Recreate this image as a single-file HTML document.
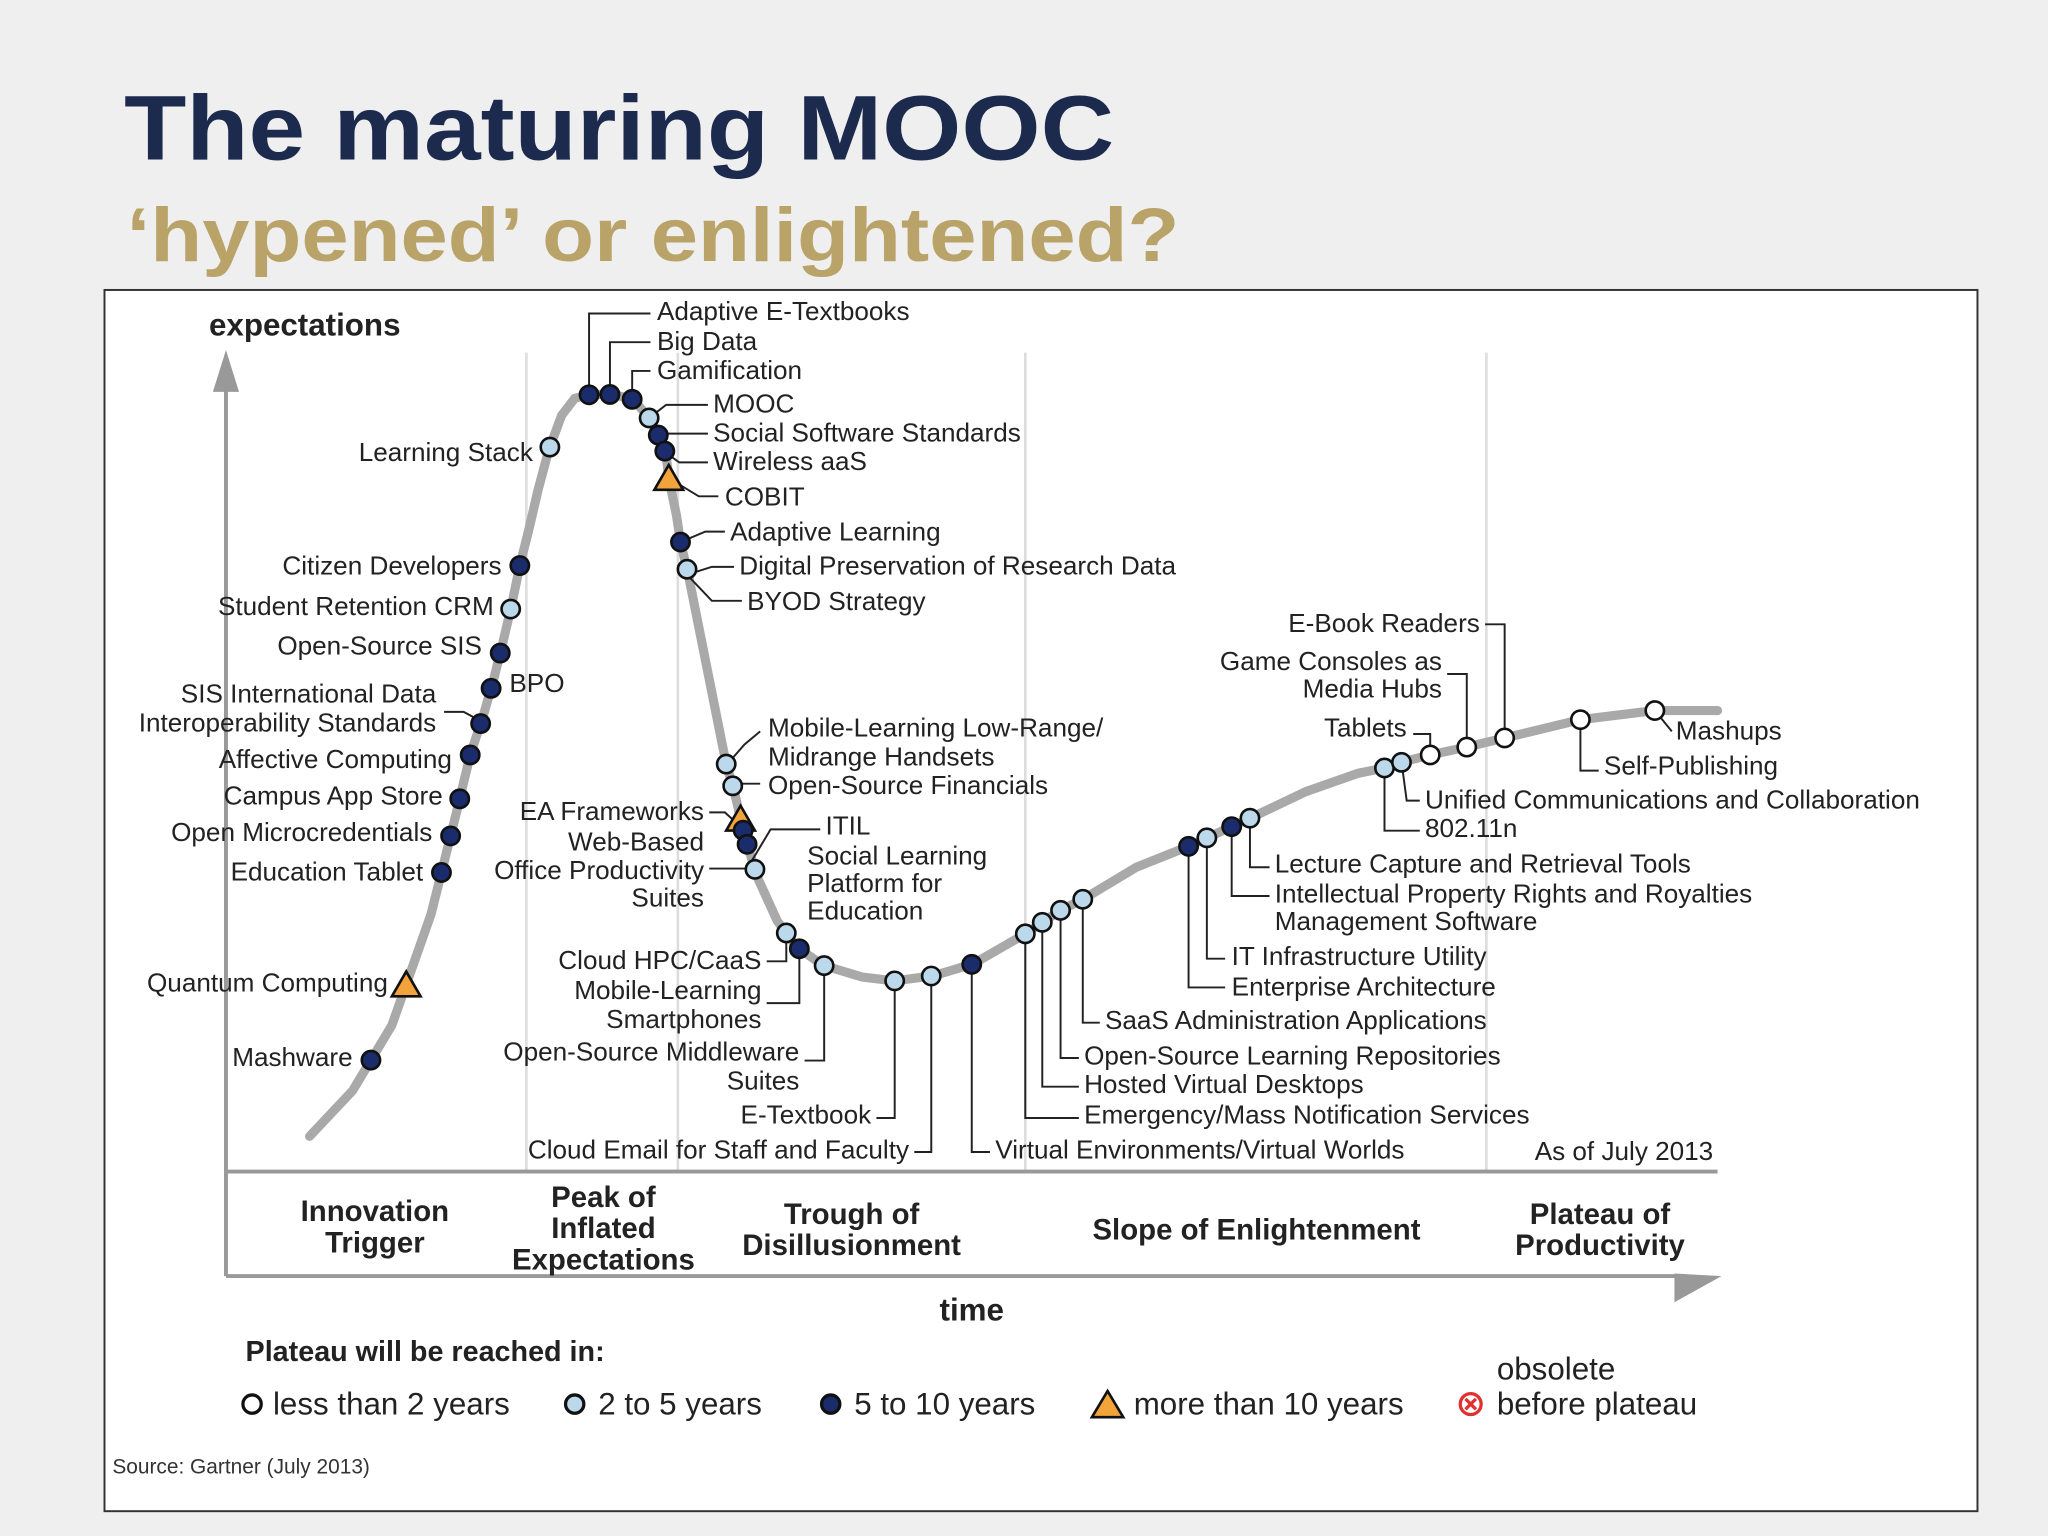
<!DOCTYPE html>
<html><head><meta charset="utf-8">
<style>
html,body{margin:0;padding:0;background:#efefef;}
svg{display:block;}
text{font-family:"Liberation Sans",sans-serif;}
</style></head>
<body>
<svg id="chart" width="2048" height="1536" viewBox="0 0 1568 1176" xmlns="http://www.w3.org/2000/svg">
<rect width="1568" height="1176" fill="#efefef"/>
<text x="95" y="122" font-size="70" font-weight="bold" fill="#1c2a4e" textLength="758" lengthAdjust="spacingAndGlyphs">The maturing MOOC</text>
<text x="97" y="200" font-size="58" font-weight="bold" fill="#b9a368" textLength="806" lengthAdjust="spacingAndGlyphs">‘hypened’ or enlightened?</text>
<rect x="80" y="222" width="1434" height="935" fill="#fff" stroke="#333" stroke-width="1.5"/>
<g stroke="#ddd" stroke-width="2">
<line x1="403" y1="270" x2="403" y2="897"/><line x1="519" y1="270" x2="519" y2="897"/>
<line x1="785" y1="270" x2="785" y2="897"/><line x1="1138" y1="270" x2="1138" y2="897"/>
</g>
<g stroke="#999" stroke-width="3" fill="#999">
<line x1="173" y1="295" x2="173" y2="977"/>
<polygon points="163,300 173,268 183,300" stroke="none"/>
<line x1="173" y1="897" x2="1315" y2="897"/>
<line x1="173" y1="977" x2="1290" y2="977"/>
<polygon points="1282,997 1318,977 1282,975" stroke="none"/>
</g>
<text x="160" y="257" font-size="24" font-weight="bold" fill="#222">expectations</text>
<text x="744" y="1011" font-size="24" font-weight="bold" fill="#222" text-anchor="middle">time</text>
<g font-size="22.5" font-weight="bold" fill="#222" text-anchor="middle">
<text x="287" y="935">Innovation</text><text x="287" y="959">Trigger</text>
<text x="462" y="924">Peak of</text><text x="462" y="948">Inflated</text><text x="462" y="972">Expectations</text>
<text x="652" y="937">Trough of</text><text x="652" y="961">Disillusionment</text>
<text x="962" y="949">Slope of Enlightenment</text>
<text x="1225" y="937">Plateau of</text><text x="1225" y="961">Productivity</text>
</g>
<path id="curve" fill="none" stroke="#a9a9a9" stroke-width="7" stroke-linecap="round"/>
<g id="leaders" fill="none" stroke="#222" stroke-width="1.5">
<polyline points="451,303 451,240 498,240"/><polyline points="467,303 467,262 498,262"/><polyline points="484,304 484,284 498,284"/>
<polyline points="497,320 510,310 542,310"/><polyline points="504,332 520,332 542,332"/><polyline points="509,346 520,354 542,354"/>
<polyline points="512,366 535,380 550,380"/><polyline points="521,415 540,407 555,407"/><polyline points="526,440 545,434 562,434"/><polyline points="526,440 545,460 568,460"/>
<polyline points="556,586 570,570 582,560"/><polyline points="561,600 582,600"/>
<polyline points="567,633 555,622 543,622"/><polyline points="572,665 543,665"/><polyline points="572,665 590,635 628,635"/>
<polyline points="602,715 602,736 587,736"/><polyline points="612,725 612,768 587,768"/><polyline points="631,739 631,812 616,812"/>
<polyline points="685,751 685,856 671,856"/><polyline points="713,747 713,882 700,882"/><polyline points="744,738 744,882 758,882"/>
<polyline points="785,714 785,856 826,856"/><polyline points="798,706 798,832 826,832"/><polyline points="812,698 812,810 826,810"/><polyline points="829,688 829,783 842,783"/>
<polyline points="910,648 910,756 938,756"/><polyline points="924,641 924,734 938,734"/><polyline points="943,632 943,686 972,686"/><polyline points="957,625 957,664 972,664"/>
<polyline points="1060,589 1060,636 1087,636"/><polyline points="1073,583 1077,613 1087,613"/>
<polyline points="1095,578 1095,562 1082,562"/><polyline points="1123,572 1123,516 1108,516"/><polyline points="1152,565 1152,478 1137,478"/>
<polyline points="1210,551 1210,590 1224,590"/><polyline points="1267,544 1280,560"/>
<polyline points="368,552 355,545 340,545"/>
</g>
<g font-size="20" fill="#222">
<g text-anchor="end">
<text x="408" y="353">Learning Stack</text><text x="384" y="440">Citizen Developers</text>
<text x="378" y="471">Student Retention CRM</text><text x="369" y="501">Open-Source SIS</text>
<text x="334" y="538">SIS International Data</text><text x="334" y="560">Interoperability Standards</text>
<text x="346" y="588">Affective Computing</text><text x="339" y="616">Campus App Store</text>
<text x="331" y="644">Open Microcredentials</text><text x="324" y="674">Education Tablet</text>
<text x="297" y="759">Quantum Computing</text><text x="270" y="816">Mashware</text>
<text x="539" y="628">EA Frameworks</text><text x="539" y="651">Web-Based</text><text x="539" y="673">Office Productivity</text><text x="539" y="694">Suites</text>
<text x="583" y="742">Cloud HPC/CaaS</text><text x="583" y="765">Mobile-Learning</text><text x="583" y="787">Smartphones</text>
<text x="612" y="812">Open-Source Middleware</text><text x="612" y="834">Suites</text>
<text x="667" y="860">E-Textbook</text><text x="696" y="887">Cloud Email for Staff and Faculty</text>
<text x="1077" y="564">Tablets</text><text x="1104" y="513">Game Consoles as</text><text x="1104" y="534">Media Hubs</text><text x="1133" y="484">E-Book Readers</text>
</g>
<text x="390" y="530">BPO</text>
<text x="503" y="245">Adaptive E-Textbooks</text><text x="503" y="268">Big Data</text><text x="503" y="290">Gamification</text>
<text x="546" y="316">MOOC</text><text x="546" y="338">Social Software Standards</text><text x="546" y="360">Wireless aaS</text>
<text x="555" y="387">COBIT</text><text x="559" y="414">Adaptive Learning</text><text x="566" y="440">Digital Preservation of Research Data</text><text x="572" y="467">BYOD Strategy</text>
<text x="588" y="564">Mobile-Learning Low-Range/</text><text x="588" y="586">Midrange Handsets</text><text x="588" y="608">Open-Source Financials</text>
<text x="632" y="639">ITIL</text><text x="618" y="662">Social Learning</text><text x="618" y="683">Platform for</text><text x="618" y="704">Education</text>
<text x="762" y="887">Virtual Environments/Virtual Worlds</text><text x="830" y="860">Emergency/Mass Notification Services</text>
<text x="830" y="837">Hosted Virtual Desktops</text><text x="830" y="815">Open-Source Learning Repositories</text><text x="846" y="788">SaaS Administration Applications</text>
<text x="943" y="739">IT Infrastructure Utility</text><text x="943" y="762">Enterprise Architecture</text>
<text x="976" y="668">Lecture Capture and Retrieval Tools</text><text x="976" y="691">Intellectual Property Rights and Royalties</text><text x="976" y="712">Management Software</text>
<text x="1091" y="641">802.11n</text><text x="1091" y="619">Unified Communications and Collaboration</text>
<text x="1228" y="593">Self-Publishing</text><text x="1283" y="566">Mashups</text>
<text x="1175" y="888">As of July 2013</text>
</g>
<g id="markers"></g>
<g>
<text x="188" y="1042" font-size="22" font-weight="bold" fill="#222">Plateau will be reached in:</text>
<g><circle cx="193" cy="1075" r="7" fill="#fff" stroke="#111" stroke-width="2.5"/><text x="209" y="1083" font-size="24" fill="#222">less than 2 years</text></g>
<g><circle cx="440" cy="1075" r="7" fill="#bcd9ec" stroke="#111" stroke-width="2.5"/><text x="458" y="1083" font-size="24" fill="#222">2 to 5 years</text></g>
<g><circle cx="636" cy="1075" r="7" fill="#1a2c6b" stroke="#111" stroke-width="2.5"/><text x="654" y="1083" font-size="24" fill="#222">5 to 10 years</text></g>
<g><polygon points="836,1085 848,1065 860,1085" fill="#f2a33a" stroke="#111" stroke-width="2"/><text x="868" y="1083" font-size="24" fill="#222">more than 10 years</text></g>
<g><circle cx="1126" cy="1075" r="8" fill="#fff" stroke="#e03030" stroke-width="2.5"/><path d="M1122,1071 L1130,1079 M1130,1071 L1122,1079" stroke="#e03030" stroke-width="2.5"/>
<text x="1146" y="1056" font-size="24" fill="#222">obsolete</text><text x="1146" y="1083" font-size="24" fill="#222">before plateau</text></g>
</g>
<text x="86" y="1128" font-size="16" fill="#333">Source: Gartner (July 2013)</text>
</svg>
<script>
// curve trace (time x -> expectation y)
const curveX = [237,270,300,330,350,360,370,378,385,392,398,405,412,420,430,440,452,470,485,497,505,510,512,518,521,527,533,540,548,556,562,570,580,595,610,630,660,685,715,745,785,810,830,870,910,925,945,960,1000,1040,1060,1075,1095,1123,1152,1210,1267,1315];
const curveY = [870,835,785,700,620,578,548,520,492,462,433,405,375,345,318,305,302,302,306,320,335,348,366,395,415,440,470,505,545,585,605,640,672,705,725,739,748,751,747,738,715,698,688,664,648,641,632,625,606,592,588,583,578,572,565,551,544,544];
// technology markers: position on time axis and maturity category
const markerX = [284,311,338,345,352,360,368,376,383,391,398,421,451,467,484,497,504,509,512,521,526,556,561,567,569,572,578,602,612,631,685,713,744,785,798,812,829,910,924,943,957,1060,1073,1095,1123,1152,1210,1267];
const markerCat = [2,3,2,2,2,2,2,2,2,1,2,1,2,2,2,1,2,2,3,2,1,1,1,3,2,2,1,1,2,1,1,1,2,1,1,1,1,2,1,2,1,1,1,0,0,0,0,0];
const catFill = ['#fff','#bcd9ec','#1a2c6b','#f2a33a'];
function yAt(x){
  for(let i=0;i<curveX.length-1;i++){
    if(x>=curveX[i]&&x<=curveX[i+1]){const t=(x-curveX[i])/(curveX[i+1]-curveX[i]);return curveY[i]+t*(curveY[i+1]-curveY[i]);}
  }
  return curveY[curveY.length-1];
}
const NS='http://www.w3.org/2000/svg';
let d='';
for(let i=0;i<curveX.length;i++){d+=(i?'L':'M')+curveX[i]+','+curveY[i];}
document.getElementById('curve').setAttribute('d',d);
const g=document.getElementById('markers');
for(let i=0;i<markerX.length;i++){
  const x=markerX[i], y=yAt(x), c=markerCat[i];
  let el;
  if(c===3){
    el=document.createElementNS(NS,'polygon');
    el.setAttribute('points',(x-11)+','+(y+9)+' '+x+','+(y-10)+' '+(x+11)+','+(y+9));
  } else {
    el=document.createElementNS(NS,'circle');
    el.setAttribute('cx',x);el.setAttribute('cy',y);el.setAttribute('r',7);
  }
  el.setAttribute('fill',catFill[c]);
  el.setAttribute('stroke','#111');
  el.setAttribute('stroke-width','2');
  
  
  g.appendChild(el);
}
</script>
</body></html>
